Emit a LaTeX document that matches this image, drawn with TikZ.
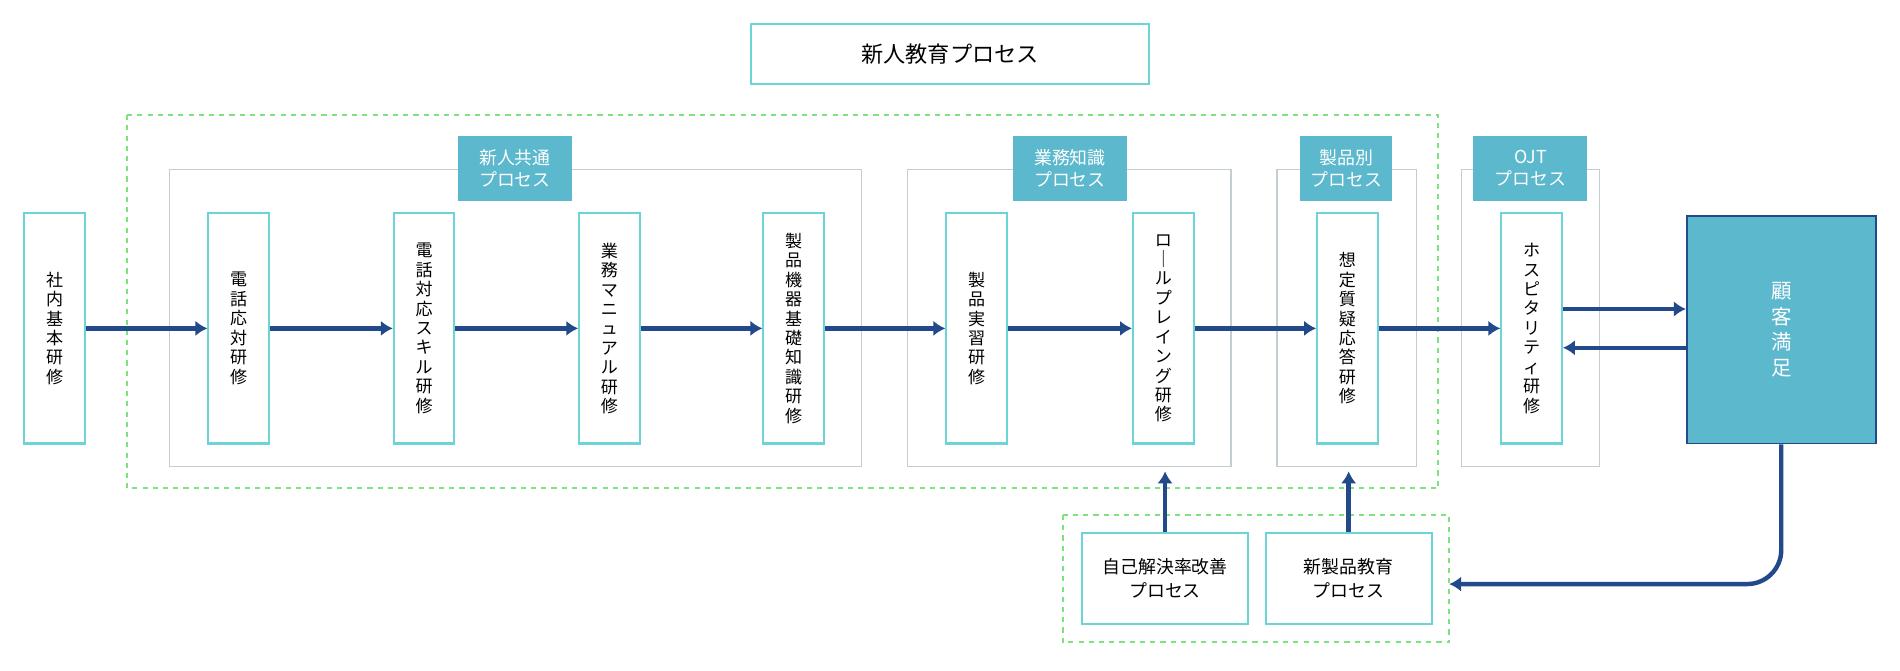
\documentclass[tikz,border=0pt]{standalone}
\usepackage{fontspec}
\setmainfont{Noto Sans CJK JP}
\usetikzlibrary{arrows.meta}
\definecolor{teal1}{HTML}{5BB8CD}
\definecolor{tealline}{HTML}{6CD3D6}
\definecolor{grayline}{HTML}{C3CED3}
\definecolor{greendash}{HTML}{7FE27F}
\definecolor{navy}{HTML}{224A8A}
\begin{document}
\begin{tikzpicture}[>=latex, x=0.025cm, y=-0.025cm]

\tikzstyle{vbox}=[draw=tealline, line width=1.2pt, minimum width=50*0.025cm, minimum height=190*0.025cm, align=center, font=\fontsize{10}{11.4}\selectfont, inner sep=0pt]
\tikzstyle{tag}=[fill=teal1, text=white, minimum width=94*0.025cm, minimum height=54*0.025cm, align=center, font=\fontsize{10.5}{13}\selectfont, inner sep=0pt]
\tikzstyle{group}=[draw=grayline, line width=1pt]
\tikzstyle{greenframe}=[draw=greendash, dashed, line width=1.2pt]
\tikzstyle{pbox}=[draw=tealline, line width=1.2pt, minimum width=137*0.025cm, minimum height=75*0.025cm, align=center, font=\fontsize{10.5}{14}\selectfont]
\tikzstyle{flow}=[-{Latex[length=7pt,width=9pt]}, navy, line width=2.6pt]

\useasboundingbox (0,0) rectangle (1568,553);

% Title
\node[draw=tealline, line width=1.2pt, minimum width=328*0.025cm, minimum height=49*0.025cm, font=\fontsize{13}{15}\selectfont] (title) at (784,44.5) {新人教育プロセス};

% Dashed frames and groups
\draw[greenframe] (105,95) rectangle (1187,403);
\draw[greenframe] (877,425) rectangle (1196,530);
\draw[group] (140,140) rectangle (711,385);
\draw[group] (749,140) rectangle (1016,385);
\draw[group] (1054,140) rectangle (1169,385);
\draw[group] (1206,140) rectangle (1320,385);

\node[tag] (t1) at (425,139) {新人共通\\プロセス};
\node[tag] (t2) at (883,139) {業務知識\\プロセス};
\node[tag, minimum width=76*0.025cm] (t3) at (1111,139) {製品別\\プロセス};
\node[tag] (t4) at (1263,139) {OJT\\プロセス};

% Training steps
\node[vbox] (s0) at (45,271) {社\\内\\基\\本\\研\\修};
\node[vbox] (s1) at (197,271) {電\\話\\応\\対\\研\\修};
\node[vbox] (s2) at (350,271) {電\\話\\対\\応\\ス\\キ\\ル\\研\\修};
\node[vbox] (s3) at (503,271) {業\\務\\マ\\ニ\\ュ\\ア\\ル\\研\\修};
\node[vbox] (s4) at (655,271) {製\\品\\機\\器\\基\\礎\\知\\識\\研\\修};
\node[vbox] (s5) at (806,271) {製\\品\\実\\習\\研\\修};
\node[vbox] (s6) at (960,271) {ロ\\｜\\ル\\プ\\レ\\イ\\ン\\グ\\研\\修};
\node[vbox] (s7) at (1112,271) {想\\定\\質\\疑\\応\\答\\研\\修};
\node[vbox] (s8) at (1264,271) {ホ\\ス\\ピ\\タ\\リ\\テ\\ィ\\研\\修};

\node[fill=teal1, draw=navy, line width=1pt, minimum width=156*0.025cm, minimum height=188*0.025cm, text=white, align=center, font=\fontsize{12}{15}\selectfont] (cs) at (1470,272) {顧\\客\\満\\足};

% Bottom processes
\node[pbox] (p1) at (961.5,477.5) {自己解決率改善\\プロセス};
\node[pbox] (p2) at (1113,477.5) {新製品教育\\プロセス};

\foreach \a/\b in {s0/s1, s1/s2, s2/s3, s3/s4, s4/s5, s5/s6, s6/s7, s7/s8}
  \draw[flow] (\a.east) -- (\b.west);

\draw[flow] ([yshift=16*0.025cm]s8.east) -- ([yshift=16*0.025cm]s8.east -| cs.west);
\draw[flow] ([yshift=-16*0.025cm]s8.east -| cs.west) -- ([yshift=-16*0.025cm]s8.east);

\coordinate (up) at (0,389);
\coordinate (back) at (1196,482);
\draw[flow] (p1.north) -- (p1.north |- up);
\draw[flow] (p2.north) -- (p2.north |- up);

\draw[flow, rounded corners=20pt] (cs.south) -- (cs.south |- back) -- (back);

\end{tikzpicture}
\end{document}
